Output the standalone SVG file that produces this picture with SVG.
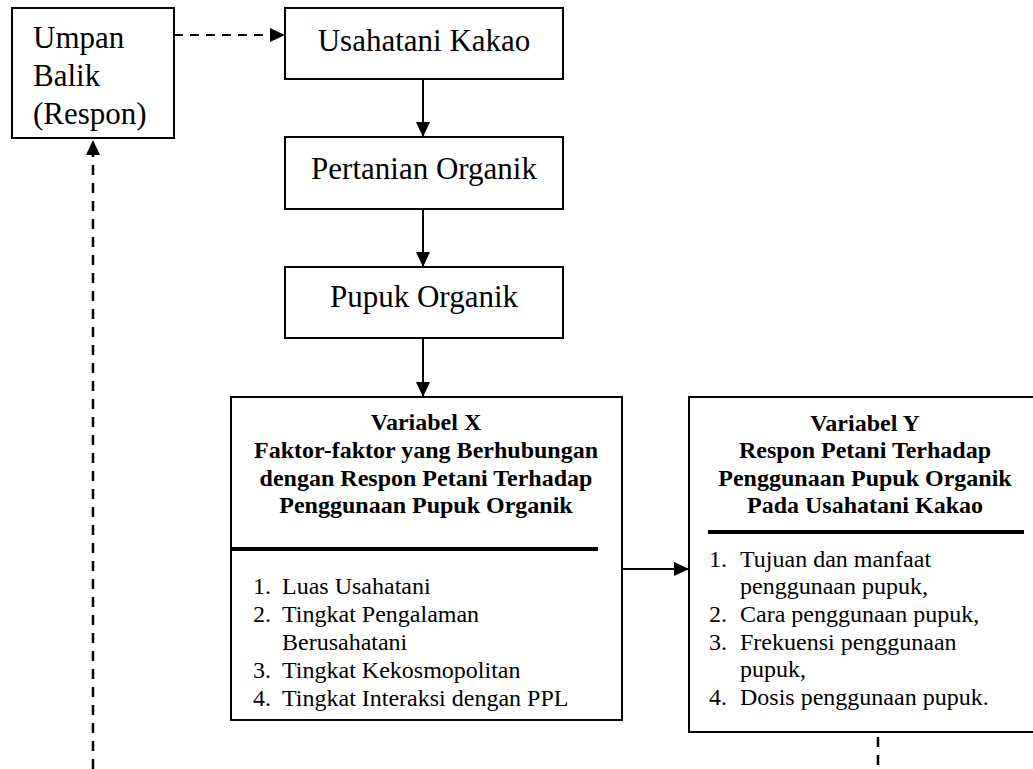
<svg xmlns="http://www.w3.org/2000/svg" width="1033" height="769" viewBox="0 0 1033 769">
<style>
.box{fill:#fff;stroke:#000;stroke-width:2}
.t{font-family:"Liberation Serif","Times New Roman",serif;fill:#000}
.big{font-size:31px}
.h{font-size:24px;font-weight:bold;text-anchor:middle}
.li{font-size:24px}
.ln{stroke:#000;stroke-width:2;fill:none}
.dash{stroke:#000;stroke-width:2;fill:none;stroke-dasharray:9 7}
.vdash{stroke:#000;stroke-width:2.5;fill:none;stroke-dasharray:10 8}
.sep{stroke:#000;stroke-width:4}
</style>
<defs>
<marker id="ah" markerUnits="userSpaceOnUse" markerWidth="16" markerHeight="16" viewBox="0 0 16 16" refX="15" refY="8" orient="auto">
<path d="M0,1 L15,8 L0,15 Z" fill="#000"/>
</marker>
</defs>
<g id="connectors">
<line class="dash" x1="174" y1="35" x2="285" y2="35" marker-end="url(#ah)"/>
<line class="ln" x1="423" y1="79" x2="423" y2="137" marker-end="url(#ah)"/>
<line class="ln" x1="423" y1="209" x2="423" y2="267" marker-end="url(#ah)"/>
<line class="ln" x1="423" y1="338" x2="423" y2="397" marker-end="url(#ah)"/>
<line class="ln" x1="622" y1="569" x2="689" y2="569" marker-end="url(#ah)"/>
<line class="vdash" x1="93" y1="769" x2="93" y2="140" marker-end="url(#ah)"/>
<line class="vdash" x1="878" y1="737" x2="878" y2="769"/>
</g>
<g id="umpan-balik">
<rect class="box" x="12" y="8" width="162" height="130"/>
<text class="t big" x="33" y="48">Umpan</text>
<text class="t big" x="33" y="86">Balik</text>
<text class="t big" x="33" y="124">(Respon)</text>
</g>
<g id="usahatani-kakao">
<rect class="box" x="285" y="8" width="278" height="71"/>
<text class="t big" x="424" y="51" text-anchor="middle">Usahatani Kakao</text>
</g>
<g id="pertanian-organik">
<rect class="box" x="285" y="137" width="278" height="72"/>
<text class="t big" x="424" y="179" text-anchor="middle">Pertanian Organik</text>
</g>
<g id="pupuk-organik">
<rect class="box" x="285" y="267" width="278" height="71"/>
<text class="t big" x="424" y="307" text-anchor="middle">Pupuk Organik</text>
</g>
<g id="variabel-x">
<rect class="box" x="231" y="397" width="391" height="323"/>
<text class="t h" x="426" y="430">Variabel X</text>
<text class="t h" x="426" y="458">Faktor-faktor yang Berhubungan</text>
<text class="t h" x="426" y="486">dengan Respon Petani Terhadap</text>
<text class="t h" x="426" y="513">Penggunaan Pupuk Organik</text>
<line class="sep" x1="231" y1="549" x2="598" y2="549"/>
<text class="t li" x="253" y="594">1.</text><text class="t li" x="282" y="594">Luas Usahatani</text>
<text class="t li" x="253" y="622">2.</text><text class="t li" x="282" y="622">Tingkat Pengalaman</text>
<text class="t li" x="282" y="650">Berusahatani</text>
<text class="t li" x="253" y="678">3.</text><text class="t li" x="282" y="678">Tingkat Kekosmopolitan</text>
<text class="t li" x="253" y="706">4.</text><text class="t li" x="282" y="706">Tingkat Interaksi dengan PPL</text>
</g>
<g id="variabel-y">
<rect class="box" x="689" y="397" width="352" height="335"/>
<text class="t h" x="865" y="431">Variabel Y</text>
<text class="t h" x="865" y="458">Respon Petani Terhadap</text>
<text class="t h" x="865" y="486">Penggunaan Pupuk Organik</text>
<text class="t h" x="865" y="513">Pada Usahatani Kakao</text>
<line class="sep" x1="708" y1="532" x2="1024" y2="532"/>
<text class="t li" x="709" y="567">1.</text><text class="t li" x="740" y="567">Tujuan dan manfaat</text>
<text class="t li" x="740" y="594">penggunaan pupuk,</text>
<text class="t li" x="709" y="622">2.</text><text class="t li" x="740" y="622">Cara penggunaan pupuk,</text>
<text class="t li" x="709" y="650">3.</text><text class="t li" x="740" y="650">Frekuensi penggunaan</text>
<text class="t li" x="740" y="677">pupuk,</text>
<text class="t li" x="709" y="705">4.</text><text class="t li" x="740" y="705">Dosis penggunaan pupuk.</text>
</g>
</svg>
